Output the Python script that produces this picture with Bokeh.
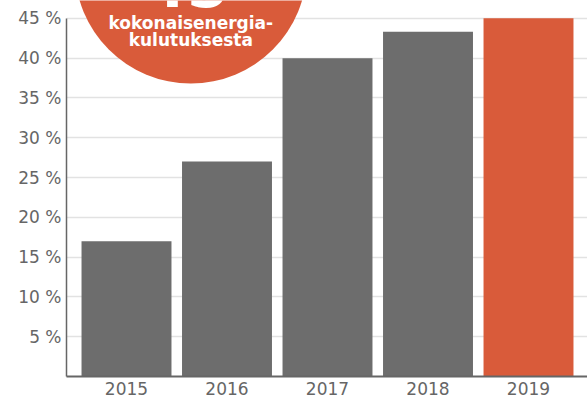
from bokeh.plotting import figure
from bokeh.models import FixedTicker
from bokeh.core.properties import value
from bokeh.embed import file_html
from bokeh.resources import INLINE

# Data
years = [2015, 2016, 2017, 2018, 2019]
year_labels = ["2015", "2016", "2017", "2018", "2019"]
shares = [17.0, 27.0, 40.0, 43.3, 45.0]
y_ticks = [5, 10, 15, 20, 25, 30, 35, 40, 45]

GRAY = "#6d6d6d"
ORANGE = "#d95b3a"
TEXT = "#666666"
FONT = "DejaVu Sans"
bar_colors = [GRAY, GRAY, GRAY, GRAY, ORANGE]

# Badge annotation
badge_big = "45"
badge_pct = "%"
badge_line1 = "kokonaisenergia-"
badge_line2 = "kulutuksesta"

p = figure(
    frame_width=521, frame_height=376,
    x_range=(2014.403, 2019.587), y_range=(0, 47.24),
    output_backend="svg", toolbar_location=None,
    min_border_left=66, min_border_right=0, min_border_top=0, min_border_bottom=24,
)
p.outline_line_color = None
p.background_fill_color = "white"
p.border_fill_color = "white"

p.vbar(x=years, top=shares, width=0.895, color=bar_colors, line_color=None)

# badge circle
p.scatter(x=[2015.64], y=[51.38], size=232, marker="circle",
          fill_color=ORANGE, line_color=None)
p.text(x=[2015.64], y=[44.45], text=[badge_line1], text_align="center",
       text_baseline="alphabetic", text_color="white",
       text_font=value(FONT), text_font_style="bold", text_font_size="17px")
p.text(x=[2015.64], y=[42.3], text=[badge_line2], text_align="center",
       text_baseline="alphabetic", text_color="white",
       text_font=value(FONT), text_font_style="bold", text_font_size="17px")
p.text(x=[2015.6], y=[49.2], text=[badge_big], text_align="center",
       text_baseline="alphabetic", text_color="white",
       text_font=value(FONT), text_font_style="bold", text_font_size="60px")
p.text(x=[2015.85], y=[49.5], text=[badge_pct], text_align="left",
       text_baseline="alphabetic", text_color="white",
       text_font=value(FONT), text_font_style="bold", text_font_size="20px")

# axes
p.xgrid.visible = False
p.ygrid.ticker = FixedTicker(ticks=y_ticks)
p.ygrid.grid_line_color = "#e2e2e2"
p.ygrid.grid_line_width = 1.5

p.yaxis.ticker = FixedTicker(ticks=y_ticks)
p.yaxis.major_label_overrides = {t: f"{t} %" for t in y_ticks}
p.yaxis.bounds = (0, 45)
p.yaxis.axis_line_color = TEXT
p.yaxis.axis_line_width = 1.5
p.yaxis.major_tick_line_color = None
p.yaxis.minor_tick_line_color = None
p.yaxis.major_tick_out = 0
p.yaxis.major_tick_in = 0
p.yaxis.major_label_standoff = 5
p.yaxis.major_label_text_font = FONT
p.yaxis.major_label_text_font_size = "17px"
p.yaxis.major_label_text_color = TEXT

p.xaxis.ticker = FixedTicker(ticks=years)
p.xaxis.major_label_overrides = dict(zip(years, year_labels))
p.xaxis.axis_line_color = TEXT
p.xaxis.axis_line_width = 2
p.xaxis.major_tick_line_color = None
p.xaxis.minor_tick_line_color = None
p.xaxis.major_tick_out = 0
p.xaxis.major_tick_in = 0
p.xaxis.major_label_standoff = 5
p.xaxis.major_label_text_font = FONT
p.xaxis.major_label_text_font_size = "17px"
p.xaxis.major_label_text_color = TEXT

open("out.html", "w").write(file_html(p, INLINE))
